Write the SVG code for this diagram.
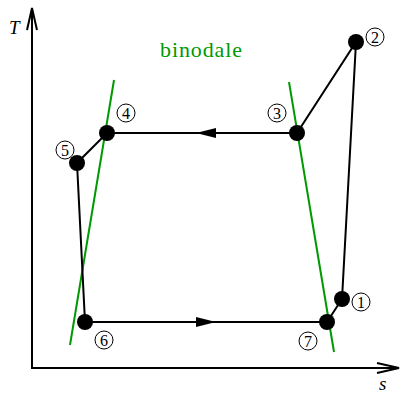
<svg xmlns="http://www.w3.org/2000/svg" width="401" height="394" viewBox="0 0 401 394">
<style>
.ax{stroke:#000;stroke-width:2;fill:none}
.e{stroke:#000;stroke-width:2;fill:none}
.g{stroke:#009900;stroke-width:2;fill:none}
.dot{fill:#000}
.lc{fill:#fff;stroke:#000;stroke-width:1}
.lt{font-family:"Liberation Serif",serif;font-size:16px;text-anchor:middle;fill:#000}
.it{font-family:"Liberation Serif",serif;font-style:italic;font-size:19px;fill:#000}
</style>
<g id="axes">
<path class="ax" d="M32,369 V8 M27,30 L32,8 L37,30"/>
<path class="ax" d="M31,368 H399 M377,363 L399,368 L377,373"/>
<text class="it" x="9" y="34">T</text>
<text class="it" x="379" y="390">s</text>
</g>
<g id="binodale">
<line class="g" x1="114" y1="80" x2="70" y2="345"/>
<line class="g" x1="289" y1="82" x2="334" y2="352"/>
<text x="160" y="57" font-family="'Liberation Serif',serif" font-size="22" fill="#009900" textLength="82">binodale</text>
</g>
<g id="connectors">
<path class="e" d="M342,299 L356,42 L297,133 L107,133 L77,163 L85,322 L327,322 L342,299"/>
<polygon points="196,133 216,128 216,138" fill="#000"/>
<polygon points="216,322 196,317 196,327" fill="#000"/>
</g>
<g id="n1"><circle class="dot" cx="342" cy="299" r="8"/><circle class="lc" cx="361" cy="302" r="9"/><text class="lt" x="361" y="307.5">1</text></g>
<g id="n2"><circle class="dot" cx="356" cy="42" r="8"/><circle class="lc" cx="375" cy="37" r="9"/><text class="lt" x="375" y="42.5">2</text></g>
<g id="n3"><circle class="dot" cx="297" cy="133" r="8"/><circle class="lc" cx="277" cy="113" r="9"/><text class="lt" x="277" y="118.5">3</text></g>
<g id="n4"><circle class="dot" cx="107" cy="133" r="8"/><circle class="lc" cx="126" cy="113" r="9"/><text class="lt" x="126" y="118.5">4</text></g>
<g id="n5"><circle class="dot" cx="77" cy="163" r="8"/><circle class="lc" cx="65" cy="150" r="9"/><text class="lt" x="65" y="155.5">5</text></g>
<g id="n6"><circle class="dot" cx="85" cy="322" r="8"/><circle class="lc" cx="104" cy="340" r="9"/><text class="lt" x="104" y="345.5">6</text></g>
<g id="n7"><circle class="dot" cx="327" cy="322" r="8"/><circle class="lc" cx="308" cy="341" r="9"/><text class="lt" x="308" y="346.5">7</text></g>
</svg>
